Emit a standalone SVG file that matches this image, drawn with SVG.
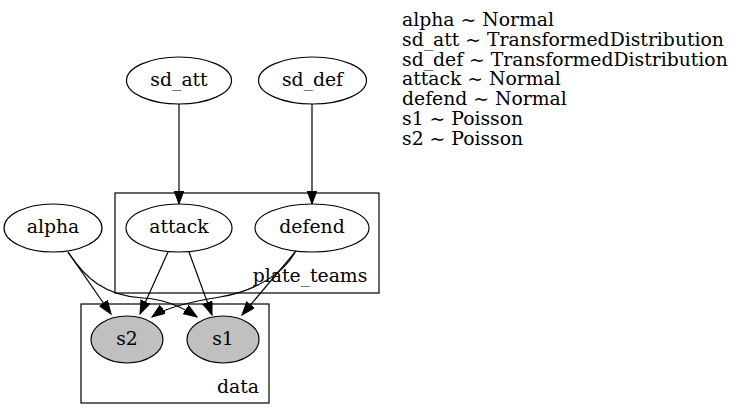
<svg xmlns="http://www.w3.org/2000/svg" width="744" height="420" viewBox="0 0 744 420">
<style>
text{font-family:"DejaVu Serif","Liberation Serif",serif;font-size:18.8px;fill:#000}
.n{text-anchor:middle}
ellipse{stroke:#000;stroke-width:1.2;fill:#fff}
.obs ellipse{fill:#c0c0c0}
.cl{fill:none;stroke:#000;stroke-width:1.2}
.e{fill:none;stroke:#000;stroke-width:1.2;marker-end:url(#ah)}
</style>
<defs>
<marker id="ah" markerUnits="userSpaceOnUse" markerWidth="15" markerHeight="11" refX="13.5" refY="5" orient="auto">
<path d="M0,0 L13.5,5 L0,10 z" fill="#000" stroke="#000" stroke-width="1"/>
</marker>
</defs>
<rect width="744" height="420" fill="#fff"/>
<g id="cluster_plate_teams">
<rect class="cl" x="115" y="193" width="264" height="100"/>
<text class="n" x="310" y="282">plate_teams</text>
</g>
<g id="cluster_data">
<rect class="cl" x="81" y="304" width="188" height="99"/>
<text class="n" x="238" y="393">data</text>
</g>
<g id="sd_att"><ellipse cx="179" cy="80.5" rx="52.5" ry="23.5"/><text class="n" x="179" y="86">sd_att</text></g>
<g id="sd_def"><ellipse cx="312.5" cy="80.5" rx="54" ry="23.5"/><text class="n" x="312.5" y="86">sd_def</text></g>
<g id="alpha"><ellipse cx="53" cy="228" rx="49" ry="24"/><text class="n" x="53" y="233">alpha</text></g>
<g id="attack"><ellipse cx="179" cy="228" rx="53" ry="24"/><text class="n" x="179" y="233">attack</text></g>
<g id="defend"><ellipse cx="312" cy="228" rx="57" ry="24"/><text class="n" x="312" y="233">defend</text></g>
<g id="s2" class="obs"><ellipse cx="127" cy="339.5" rx="36" ry="23.5"/><text class="n" x="127" y="345">s2</text></g>
<g id="s1" class="obs"><ellipse cx="223" cy="339.5" rx="36" ry="23.5"/><text class="n" x="223" y="345">s1</text></g>
<g id="edges">
<path class="e" d="M179,104 L179,204"/>
<path class="e" d="M312,104 L312,204"/>
<path class="e" d="M68,252 L111,314"/>
<path class="e" d="M68,252 C85,278 105,296 143,298 C165,299 185,309 197,317"/>
<path class="e" d="M168,252 L140,314"/>
<path class="e" d="M189,252 L212,315"/>
<path class="e" d="M295,252 C287,268 262,290 220,297 C195,301 166,307 152,317"/>
<path class="e" d="M296,251 L242,315"/>
</g>
<g id="legend">
<text x="402" y="26">alpha ~ Normal</text>
<text x="402" y="46">sd_att ~ TransformedDistribution</text>
<text x="402" y="65.5">sd_def ~ TransformedDistribution</text>
<text x="402" y="85">attack ~ Normal</text>
<text x="402" y="105">defend ~ Normal</text>
<text x="402" y="125">s1 ~ Poisson</text>
<text x="402" y="145">s2 ~ Poisson</text>
</g>
</svg>
